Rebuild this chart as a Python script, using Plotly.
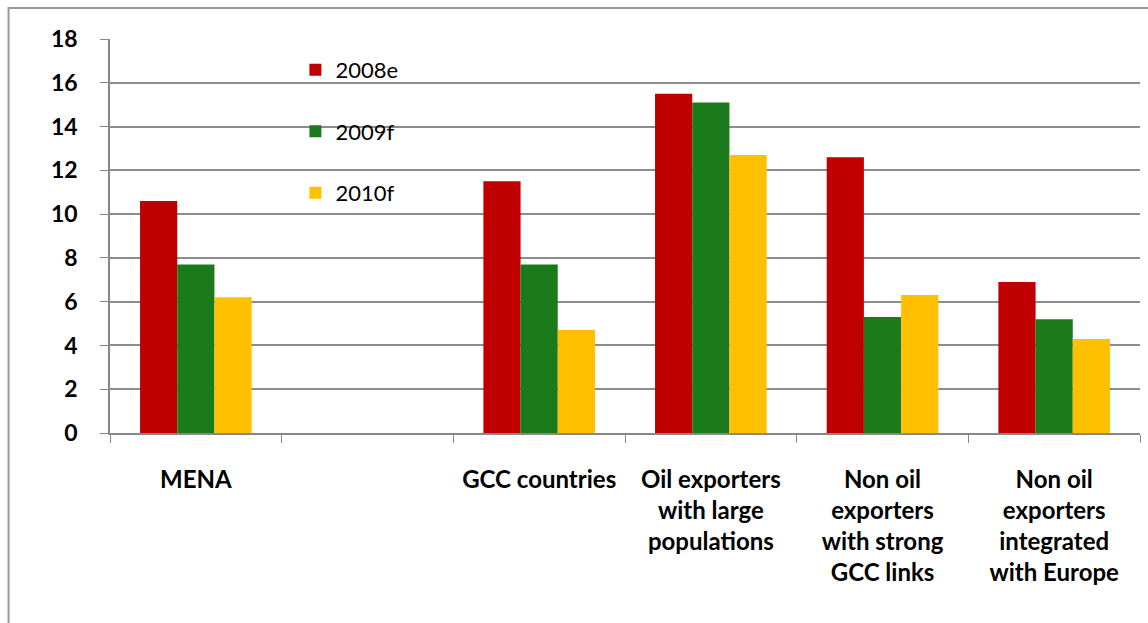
import plotly.graph_objects as go

categories = ["MENA", "", "GCC countries", "Oil exporters<br>with large<br>populations",
              "Non oil<br>exporters<br>with strong<br>GCC links", "Non oil<br>exporters<br>integrated<br>with Europe"]
cat_keys = ["c0", "c1", "c2", "c3", "c4", "c5"]
series_names = ["2008e", "2009f", "2010f"]
v2008 = [10.6, None, 11.5, 15.5, 12.6, 6.9]
v2009 = [7.7, None, 7.7, 15.1, 5.3, 5.2]
v2010 = [6.2, None, 4.7, 12.7, 6.3, 4.3]
colors = ["#C00000", "#1B7A1B", "#FFC000"]
yticks = [0, 2, 4, 6, 8, 10, 12, 14, 16, 18]

fig = go.Figure()
for i, (name, vals) in enumerate(zip(series_names, [v2008, v2009, v2010])):
    fig.add_trace(go.Bar(x=cat_keys, y=vals, name=name, marker_color=colors[i],
                         marker_line_width=0, legendgroup=name))

fig.update_layout(
    width=1148, height=623,
    margin=dict(l=110, r=8, t=39, b=190),
    paper_bgcolor="white", plot_bgcolor="white",
    barmode="group", bargap=0.35, bargroupgap=0,
    font=dict(family="Lato, Open Sans, sans-serif", color="black"),
    showlegend=True,
    legend=dict(x=0.18, y=0.975, xanchor="left", yanchor="top",
                bgcolor="rgba(0,0,0,0)", font=dict(size=22, color="black"),
                tracegroupgap=30, itemwidth=30),
    xaxis=dict(tickmode="array", tickvals=cat_keys, ticktext=["<b>" + c + "</b>" for c in categories],
               tickfont=dict(size=24, color="black"), tickson="boundaries",
               ticks="outside", ticklen=8, tickcolor="#888888",
               showline=True, linecolor="#888888", linewidth=2,
               ticklabelstandoff=24, showgrid=False),
    yaxis=dict(range=[0, 18], tickvals=yticks, ticktext=["<b>%d</b>" % t for t in yticks],
               tickfont=dict(size=23, color="black"),
               showgrid=True, gridcolor="#8c8c8c", gridwidth=1.5,
               ticks="outside", ticklen=8, tickcolor="#888888",
               showline=True, linecolor="#888888", linewidth=1.5,
               ticklabelstandoff=18, zeroline=False),
)

fig.add_shape(type="rect", xref="paper", yref="paper",
              x0=-0.0985, x1=1.05, y0=-0.6, y1=1.0787,
              line=dict(color="#999999", width=2), fillcolor="rgba(0,0,0,0)", layer="below")

fig.write_html("out.html")
